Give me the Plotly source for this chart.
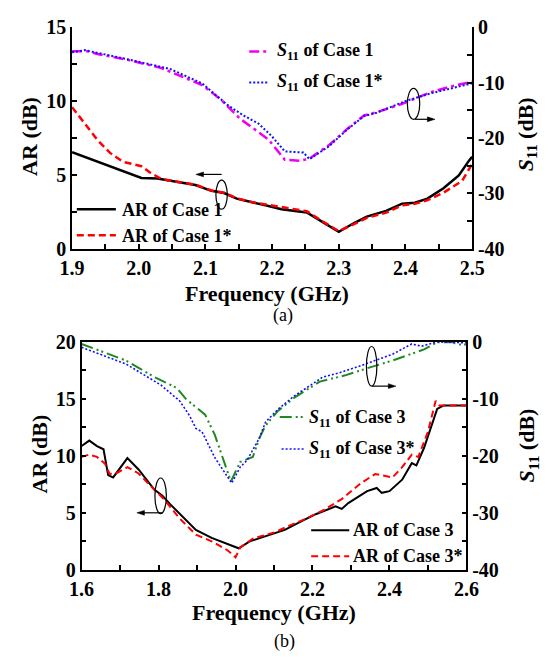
import plotly.graph_objects as go

W, H = 548, 664

# ---------------- data: panel (a) ----------------
f_ar1 = [1.900, 1.933, 1.966, 2.004, 2.028, 2.047, 2.085, 2.109, 2.128, 2.147, 2.171, 2.190, 2.214,
         2.238, 2.252, 2.276, 2.300, 2.323, 2.342, 2.371, 2.395, 2.414, 2.433, 2.457, 2.480, 2.495, 2.500]
ar_case1 = [6.55, 6.0, 5.4, 4.8, 4.76, 4.6, 4.32, 3.93, 3.78, 3.4, 3.12, 2.95, 2.68,
            2.53, 2.47, 1.81, 1.16, 1.75, 2.18, 2.57, 3.06, 3.12, 3.4, 4.1, 4.98, 5.96, 6.24]

f_ar1s = [1.900, 1.919, 1.938, 1.957, 1.976, 2.004, 2.016, 2.033, 2.047, 2.085, 2.109, 2.128, 2.147, 2.171,
          2.190, 2.214, 2.238, 2.252, 2.276, 2.300, 2.323, 2.342, 2.371, 2.395, 2.414, 2.433, 2.457, 2.471,
          2.485, 2.500]
ar_case1s = [9.6, 8.47, 7.38, 6.5, 5.9, 5.6, 5.2, 4.76, 4.62, 4.35, 3.95, 3.8, 3.42, 3.15,
             3.0, 2.8, 2.62, 2.55, 1.85, 1.2, 1.68, 2.1, 2.45, 2.95, 3.05, 3.3, 3.8, 4.2,
             4.6, 5.75]

f_s1 = [1.900, 1.923, 1.938, 1.985, 2.033, 2.076, 2.095, 2.123, 2.152, 2.176, 2.195, 2.219, 2.242,
        2.256, 2.285, 2.314, 2.338, 2.357, 2.395, 2.438, 2.470, 2.500]
s11_case1 = [-4.3, -4.3, -4.8, -5.9, -7.3, -9.4, -10.4, -13.0, -16.5, -18.6, -20.3, -23.9, -24.1,
             -23.7, -21.3, -18.2, -15.9, -15.3, -13.8, -11.7, -10.6, -9.8]

f_s1s = [1.900, 1.919, 1.985, 2.047, 2.095, 2.133, 2.157, 2.180, 2.200, 2.219, 2.247, 2.256, 2.285,
         2.314, 2.338, 2.357, 2.400, 2.438, 2.500]
s11_case1s = [-4.5, -4.1, -5.8, -7.5, -10.1, -14.0, -15.9, -17.4, -19.7, -22.4, -22.6, -23.8, -21.5,
              -18.3, -16.0, -15.4, -13.3, -11.9, -10.1]

# ---------------- data: panel (b) ----------------
f_ar3 = [1.600, 1.620, 1.640, 1.657, 1.669, 1.682, 1.719, 1.748, 1.789, 1.810, 1.830, 1.863, 1.897,
         1.938, 1.979, 2.008, 2.037, 2.078, 2.103, 2.128, 2.177, 2.210, 2.260, 2.276, 2.293, 2.342,
         2.367, 2.380, 2.400, 2.433, 2.458, 2.470, 2.490, 2.524, 2.540, 2.600]
ar_case3 = [10.85, 11.33, 10.85, 10.57, 8.3, 8.1, 9.8, 8.8, 7.03, 6.5, 5.76, 4.63, 3.5,
            2.8, 2.29, 1.89, 2.5, 2.94, 3.2, 3.5, 4.35, 4.9, 5.56, 5.34, 5.85, 6.9,
            7.18, 6.75, 6.9, 7.9, 9.35, 9.15, 10.7, 14.1, 14.4, 14.4]

f_ar3s = [1.600, 1.620, 1.640, 1.661, 1.673, 1.690, 1.719, 1.748, 1.781, 1.814, 1.855, 1.897, 1.938,
          1.979, 2.000, 2.012, 2.045, 2.078, 2.103, 2.128, 2.177, 2.227, 2.276, 2.326, 2.363, 2.380,
          2.408, 2.433, 2.458, 2.475, 2.500, 2.520, 2.530, 2.600]
ar_case3s = [9.9, 10.1, 9.9, 9.3, 8.4, 8.45, 9.0, 8.45, 7.3, 6.2, 4.5, 3.08, 2.5,
             1.72, 1.1, 1.95, 2.74, 3.08, 3.3, 3.7, 4.4, 5.2, 6.2, 7.6, 8.4, 8.3,
             8.1, 9.0, 10.1, 9.9, 12.1, 14.8, 14.4, 14.4]

f_s3 = [1.600, 1.715, 1.789, 1.847, 1.872, 1.921, 1.946, 1.988, 2.012, 2.037, 2.045, 2.062, 2.078,
        2.111, 2.153, 2.219, 2.285, 2.326, 2.408, 2.490, 2.524, 2.565, 2.575, 2.600]
s11_case3 = [-0.4, -3.3, -6.2, -8.1, -10.1, -12.8, -16.3, -24.5, -21.1, -20.5, -20.2, -16.9, -14.7,
             -12.1, -9.8, -7.0, -5.9, -5.0, -3.3, -1.36, -0.1, -0.1, -0.5, -0.5]

f_s3s = [1.600, 1.715, 1.806, 1.855, 1.880, 1.897, 1.913, 1.946, 1.990, 2.012, 2.030, 2.062, 2.078,
         2.111, 2.153, 2.227, 2.268, 2.326, 2.408, 2.458, 2.483, 2.524, 2.560, 2.600]
s11_case3s = [-1.0, -3.9, -7.6, -10.4, -12.9, -15.2, -15.8, -20.3, -24.8, -22.0, -20.8, -16.9, -14.1,
              -11.8, -9.5, -6.2, -5.5, -4.2, -2.2, -0.4, -0.8, -0.05, -0.1, -0.2]

# ---------------- ticks ----------------
xa_ticks = [1.9, 2.0, 2.1, 2.2, 2.3, 2.4, 2.5]
xa_text = ["1.9", "2.0", "2.1", "2.2", "2.3", "2.4", "2.5"]
xa_minor = [1.95, 2.05, 2.15, 2.25, 2.35, 2.45]
ya_ticks = [0, 5, 10, 15]
ya_text = ["0", "5", "10", "15"]
ya_minor = [2.5, 7.5, 12.5]
xb_ticks = [1.6, 1.8, 2.0, 2.2, 2.4, 2.6]
xb_text = ["1.6", "1.8", "2.0", "2.2", "2.4", "2.6"]
xb_minor = [1.7, 1.9, 2.1, 2.3, 2.5]
yb_ticks = [0, 5, 10, 15, 20]
yb_text = ["0", "5", "10", "15", "20"]
yb_minor = [2.5, 7.5, 12.5, 17.5]
s_ticks = [-40, -30, -20, -10, 0]
s_text = ["-40", "-30", "-20", "-10", "0"]
s_minor = [-35, -25, -15, -5]

FONT = "Liberation Serif"
MAG, BLUE, RED, GREEN = "#F000F0", "#1010FF", "#FF0000", "#1E8A1E"
DASHDOT = "10px,4px,3px,4px"
DOT = "2px,2px"
DASH = "7px,4px"
DASHDOTDOT = "12px,4px,2px,3px,2px,4px"


def px(x):
    return x / W


def py(y):
    return 1 - y / H


fig = go.Figure()
fig.add_trace(go.Scatter(x=f_ar1, y=ar_case1, xaxis="x", yaxis="y", mode="lines",
                         line=dict(color="black", width=2.5)))
fig.add_trace(go.Scatter(x=f_ar1s, y=ar_case1s, xaxis="x", yaxis="y", mode="lines",
                         line=dict(color=RED, width=2.5, dash=DASH)))
fig.add_trace(go.Scatter(x=f_s1, y=s11_case1, xaxis="x", yaxis="y2", mode="lines",
                         line=dict(color=MAG, width=2.5, dash=DASHDOT)))
fig.add_trace(go.Scatter(x=f_s1s, y=s11_case1s, xaxis="x", yaxis="y2", mode="lines",
                         line=dict(color=BLUE, width=2, dash=DOT)))

fig.add_trace(go.Scatter(x=f_ar3, y=ar_case3, xaxis="x2", yaxis="y3", mode="lines",
                         line=dict(color="black", width=2)))
fig.add_trace(go.Scatter(x=f_ar3s, y=ar_case3s, xaxis="x2", yaxis="y3", mode="lines",
                         line=dict(color=RED, width=2, dash=DASH)))
fig.add_trace(go.Scatter(x=f_s3, y=s11_case3, xaxis="x2", yaxis="y4", mode="lines",
                         line=dict(color=GREEN, width=2, dash=DASHDOTDOT)))
fig.add_trace(go.Scatter(x=f_s3s, y=s11_case3s, xaxis="x2", yaxis="y4", mode="lines",
                         line=dict(color=BLUE, width=1.6, dash=DOT)))

tickfont = dict(family=FONT, size=20, color="black", weight="bold")
common = dict(showgrid=False, zeroline=False, showline=True, linecolor="black", linewidth=1.5,
              ticks="inside", ticklen=5, tickwidth=1.5, tickcolor="black", tickfont=tickfont,
              tickmode="array")


def minor(vals):
    return dict(tickmode="array", tickvals=vals, ticks="inside", ticklen=5, tickwidth=1.5,
                tickcolor="black", showgrid=False)


fig.update_layout(
    width=W, height=H, margin=dict(l=0, r=0, t=0, b=0), showlegend=False,
    paper_bgcolor="white", plot_bgcolor="white",
    font=dict(family=FONT),
    xaxis=dict(common, domain=[px(62), px(482)], range=[1.9, 2.5], anchor="y",
               tickvals=xa_ticks, ticktext=xa_text, minor=minor(xa_minor)),
    yaxis=dict(common, domain=[py(246), py(17)], range=[0, 15], anchor="x",
               tickvals=ya_ticks, ticktext=ya_text, minor=minor(ya_minor)),
    yaxis2=dict(common, range=[-40, 0], anchor="x", overlaying="y", side="right",
                tickvals=s_ticks, ticktext=s_text, minor=minor(s_minor)),
    xaxis2=dict(common, domain=[px(72), px(476)], range=[1.6, 2.6], anchor="y3", mirror=True,
                tickvals=xb_ticks, ticktext=xb_text, minor=minor(xb_minor)),
    yaxis3=dict(common, domain=[py(578), py(342)], range=[0, 20], anchor="x2",
                tickvals=yb_ticks, ticktext=yb_text, minor=minor(yb_minor)),
    yaxis4=dict(common, range=[-40, 0], anchor="x2", overlaying="y3", side="right",
                tickvals=s_ticks, ticktext=s_text, minor=minor(s_minor)),
)

ann = []


def text(x, y, t, size=22, bold=True, angle=0, xanchor="center"):
    ann.append(dict(x=px(x), y=py(y), xref="paper", yref="paper", text=t, showarrow=False,
                    textangle=angle, xanchor=xanchor, yanchor="middle",
                    font=dict(family=FONT, size=size, color="black",
                              weight="bold" if bold else "normal")))


# axis titles
text(17, 130, "AR (dB)", angle=-90)
text(539, 127, "<i>S</i><sub>11</sub> (dB)", angle=-90)
text(267, 292, "Frequency (GHz)")
text(283, 315, "(a)", size=18, bold=False)
text(28, 458, "AR (dB)", angle=-90)
text(541, 449, "<i>S</i><sub>11</sub> (dB)", angle=-90)
text(274, 622, "Frequency (GHz)")
text(285, 652, "(b)", size=18, bold=False)

# legend texts
text(275, 42, "<i>S</i><sub>11</sub> of Case 1", size=18, xanchor="left")
text(275, 74, "<i>S</i><sub>11</sub> of Case 1*", size=18, xanchor="left")
text(112, 206, "AR of Case 1", size=18, xanchor="left")
text(112, 233, "AR of Case 1*", size=18, xanchor="left")
text(309, 421, "<i>S</i><sub>11</sub> of Case 3", size=18, xanchor="left")
text(309, 454, "<i>S</i><sub>11</sub> of Case 3*", size=18, xanchor="left")
text(355, 537, "AR of Case 3", size=18, xanchor="left")
text(355, 564, "AR of Case 3*", size=18, xanchor="left")
fig.update_layout(annotations=ann)

shapes = []
# ellipses marking which axis each curve pair belongs to
for (x0, x1, y0, y1) in [(213, 225, 175, 205), (414, 427, 80, 112),
                         (149, 161, 483, 520), (371, 382, 347, 388)]:
    shapes.append(dict(type="circle", xref="paper", yref="paper", x0=px(x0), x1=px(x1),
                       y0=py(y1), y1=py(y0), line=dict(color="black", width=1.2)))

# arrows: (head x, tail x, y)
for (hx, tx, y) in [(192, 219, 169), (443, 422, 112), (130, 157, 519), (402, 377, 388)]:
    d = 1 if tx > hx else -1
    shapes.append(dict(type="line", xref="paper", yref="paper", x0=px(tx), x1=px(hx + d * 6),
                       y0=py(y), y1=py(y), line=dict(color="black", width=1.2)))
    path = (f"M {px(hx)},{py(y)} L {px(hx + d * 8)},{py(y - 2.5)} "
            f"L {px(hx + d * 8)},{py(y + 2.5)} Z")
    shapes.append(dict(type="path", xref="paper", yref="paper", path=path,
                       fillcolor="black", line=dict(color="black", width=0.5)))

# legend samples
for (x0, x1, y, col, w, d) in [(248, 268, 42, MAG, 2.5, DASHDOT), (248, 268, 74, BLUE, 2, DOT),
                              (67, 108, 205, "black", 2.5, "solid"), (67, 108, 232, RED, 2.5, DASH),
                              (280, 307, 420, GREEN, 2, DASHDOTDOT), (282, 307, 453, BLUE, 1.6, DOT),
                              (313, 353, 537, "black", 2, "solid"), (313, 353, 564, RED, 2, DASH)]:
    shapes.append(dict(type="line", xref="paper", yref="paper", x0=px(x0), x1=px(x1),
                       y0=py(y), y1=py(y), line=dict(color=col, width=w, dash=d)))
fig.update_layout(shapes=shapes)

fig.write_html("out.html")
